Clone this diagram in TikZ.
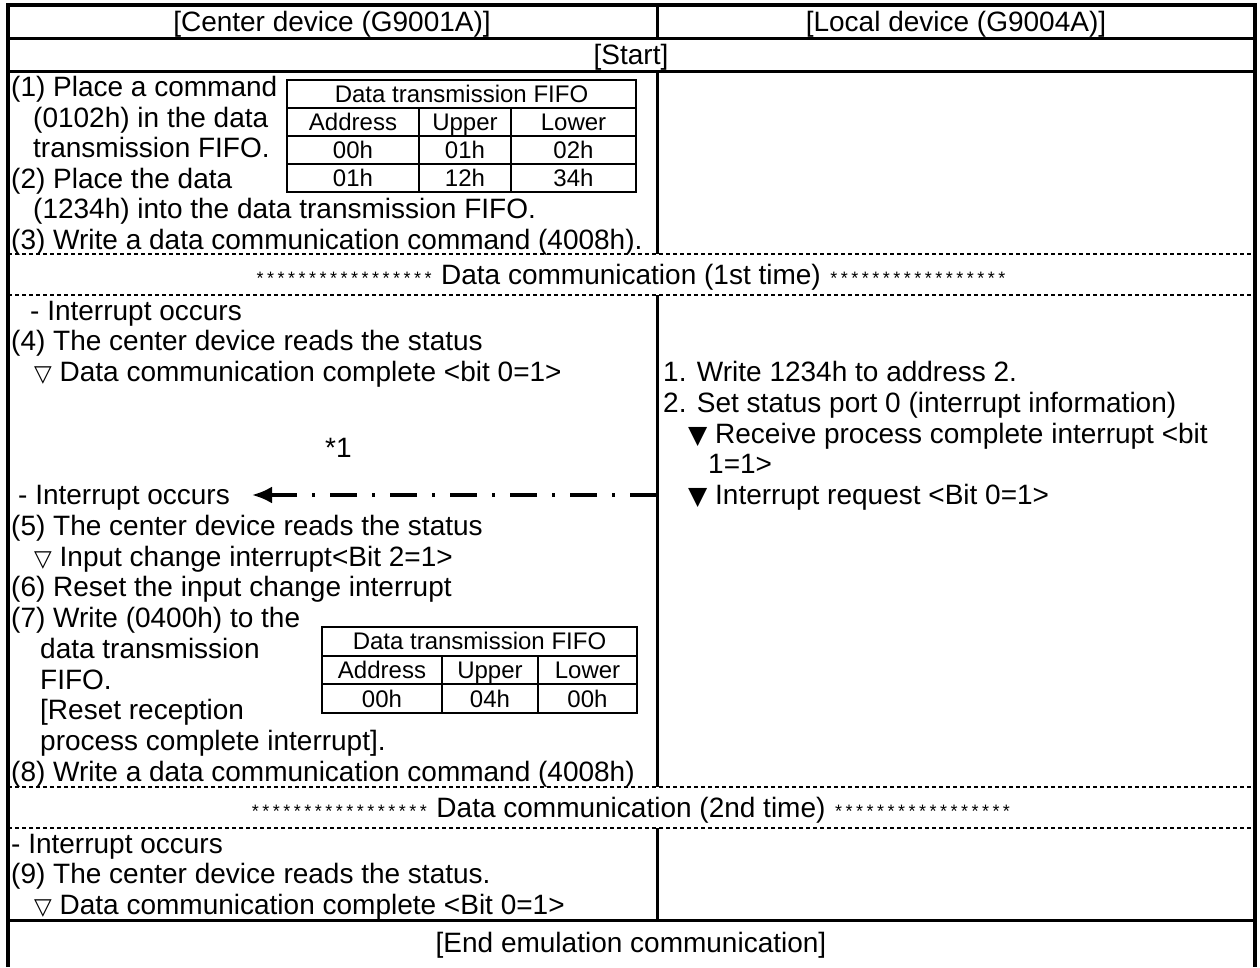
\documentclass[tikz,border=0pt]{standalone}
\usepackage{fontspec}
\setmainfont{Liberation Sans}
\newfontfamily\symf{DejaVu Sans}
\usetikzlibrary{arrows.meta}
\newcommand\wtri{{\symf\fontsize{23}{23}\selectfont ▽}}
\newcommand\btri{{\symf\fontsize{25}{25}\selectfont ▼}}
\newcommand\onestar{\makebox[10.5pt]{\fontsize{18}{18}\selectfont *}}
\newcommand\starrow{\onestar\onestar\onestar\onestar\onestar\onestar\onestar\onestar\onestar\onestar\onestar\onestar\onestar\onestar\onestar\onestar\onestar}
\begin{document}
\begin{tikzpicture}[x=1pt,y=-1pt,
  txt/.style={anchor=base west, inner sep=0pt, font=\fontsize{28}{30}\selectfont},
  ctr/.style={anchor=base, inner sep=0pt, font=\fontsize{28}{30}\selectfont},
  tbl/.style={anchor=base, inner sep=0pt, font=\fontsize{24}{26}\selectfont},
  frame/.style={line width=4pt},
  rule/.style={line width=3pt},
  dline/.style={line width=1.3pt, dash pattern=on 4pt off 3pt},
  tline/.style={line width=2pt},
  ddarrow/.style={line width=3.5pt, dash pattern=on 27pt off 15pt on 3pt off 15pt, -{Latex[length=20pt,width=17pt]}}]
\useasboundingbox (0,0) rectangle (1260,967);
\fill[white] (0,0) rectangle (1260,967);
% frame and rules
\draw[frame] (8,967) -- (8,5) -- (1255,5) -- (1255,967);
\draw[rule] (8,38) -- (1255,38);
\draw[rule] (8,71) -- (1255,71);
\draw[rule] (657,5) -- (657,38);
\draw[rule] (657,71) -- (657,254);
\draw[dline] (8,254) -- (1255,254);
\draw[dline] (8,295) -- (1255,295);
\draw[rule] (657,295) -- (657,787);
\draw[dline] (8,787) -- (1255,787);
\draw[dline] (8,828) -- (1255,828);
\draw[rule] (657,828) -- (657,920);
\draw[rule] (8,920) -- (1255,920);
% header
\node[ctr] (hc) at (332,31) {[Center device (G9001A)]};
\node[ctr] (hl) at (956,31) {[Local device (G9004A)]};
\node[ctr] (st) at (631,64) {[Start]};
% section 1
\node[txt] (a1) at (11,96.5) {(1) Place a command};
\node[txt] (a2) at (33,127) {(0102h) in the data};
\node[txt] (a3) at (33,157.5) {transmission FIFO.};
\node[txt] (a4) at (11,188) {(2) Place the data};
\node[txt] (a5) at (33,218.5) {(1234h) into the data transmission FIFO.};
\node[txt] (a6) at (11,249) {(3) Write a data communication command (4008h).};
% table 1
\draw[tline] (287,80) rectangle (636,192);
\draw[tline] (287,108) -- (636,108);
\draw[tline] (287,136) -- (636,136);
\draw[tline] (287,164) -- (636,164);
\draw[tline] (419,108) -- (419,192);
\draw[tline] (511,108) -- (511,192);
\node[tbl] (t1h) at (461.5,102) {Data transmission FIFO};
\node[tbl] (t1a) at (353,130) {Address};
\node[tbl] (t1b) at (465,130) {Upper};
\node[tbl] (t1c) at (573.5,130) {Lower};
\node[tbl] (t1d) at (353,158) {00h};
\node[tbl] (t1e) at (465,158) {01h};
\node[tbl] (t1f) at (573.5,158) {02h};
\node[tbl] (t1g) at (353,186) {01h};
\node[tbl] (t1i) at (465,186) {12h};
\node[tbl] (t1j) at (573.5,186) {34h};
% band 1
\node[ctr] (b1) at (631,284) {\starrow\ Data communication (1st time) \starrow};
% section 2 left
\node[txt] (c1) at (30,320) {- Interrupt occurs};
\node[txt] (c2) at (11,350.75) {(4) The center device reads the status};
\node[txt] (c3) at (34,381.5) {\wtri\ Data communication complete <bit 0=1>};
\node[txt] (c4) at (325,457) {*1};
\node[txt] (c7) at (18,504.5) {- Interrupt occurs};
\node[txt] (c8) at (11,535.25) {(5) The center device reads the status};
\node[txt] (c9) at (34,566) {\wtri\ Input change interrupt<Bit 2=1>};
\node[txt] (c10) at (11,596.75) {(6) Reset the input change interrupt};
\node[txt] (c11) at (11,627.5) {(7) Write (0400h) to the};
\node[txt] (c12) at (40,658.25) {data transmission};
\node[txt] (c13) at (40,689) {FIFO.};
\node[txt] (c14) at (40,719.75) {[Reset reception};
\node[txt] (c15) at (40,750.5) {process complete interrupt].};
\node[txt] (c16) at (11,781.25) {(8) Write a data communication command (4008h)};
% table 2
\draw[tline] (322,627) rectangle (637,713);
\draw[tline] (322,655.7) -- (637,655.7);
\draw[tline] (322,684.4) -- (637,684.4);
\draw[tline] (442,655.7) -- (442,713);
\draw[tline] (538,655.7) -- (538,713);
\node[tbl] (t2h) at (479.5,649) {Data transmission FIFO};
\node[tbl] (t2a) at (382,678) {Address};
\node[tbl] (t2b) at (490,678) {Upper};
\node[tbl] (t2c) at (587.5,678) {Lower};
\node[tbl] (t2d) at (382,707) {00h};
\node[tbl] (t2e) at (490,707) {04h};
\node[tbl] (t2f) at (587.5,707) {00h};
% section 2 right
\node[txt] (r3) at (663,381.5) {1. Write 1234h to address 2.};
\node[txt] (r4) at (663,412.25) {2. Set status port 0 (interrupt information)};
\node[txt] (r5) at (688,443) {\btri\ Receive process complete interrupt <bit};
\node[txt] (r6) at (708,473.75) {1=1>};
\node[txt] (r7) at (688,504.5) {\btri\ Interrupt request <Bit 0=1>};
% arrow
\coordinate (as) at (657,495);
\coordinate (ae) at (252,495);
\draw[ddarrow] (as) -- (ae);
% band 2
\node[ctr] (b2) at (631,817) {\starrow\ Data communication (2nd time) \starrow};
% section 3
\node[txt] (d1) at (11,853) {- Interrupt occurs};
\node[txt] (d2) at (11,883.5) {(9) The center device reads the status.};
\node[txt] (d3) at (34,914) {\wtri\ Data communication complete <Bit 0=1>};
% end
\node[ctr] (en) at (631,952.5) {[End emulation communication]};
\end{tikzpicture}
\end{document}
